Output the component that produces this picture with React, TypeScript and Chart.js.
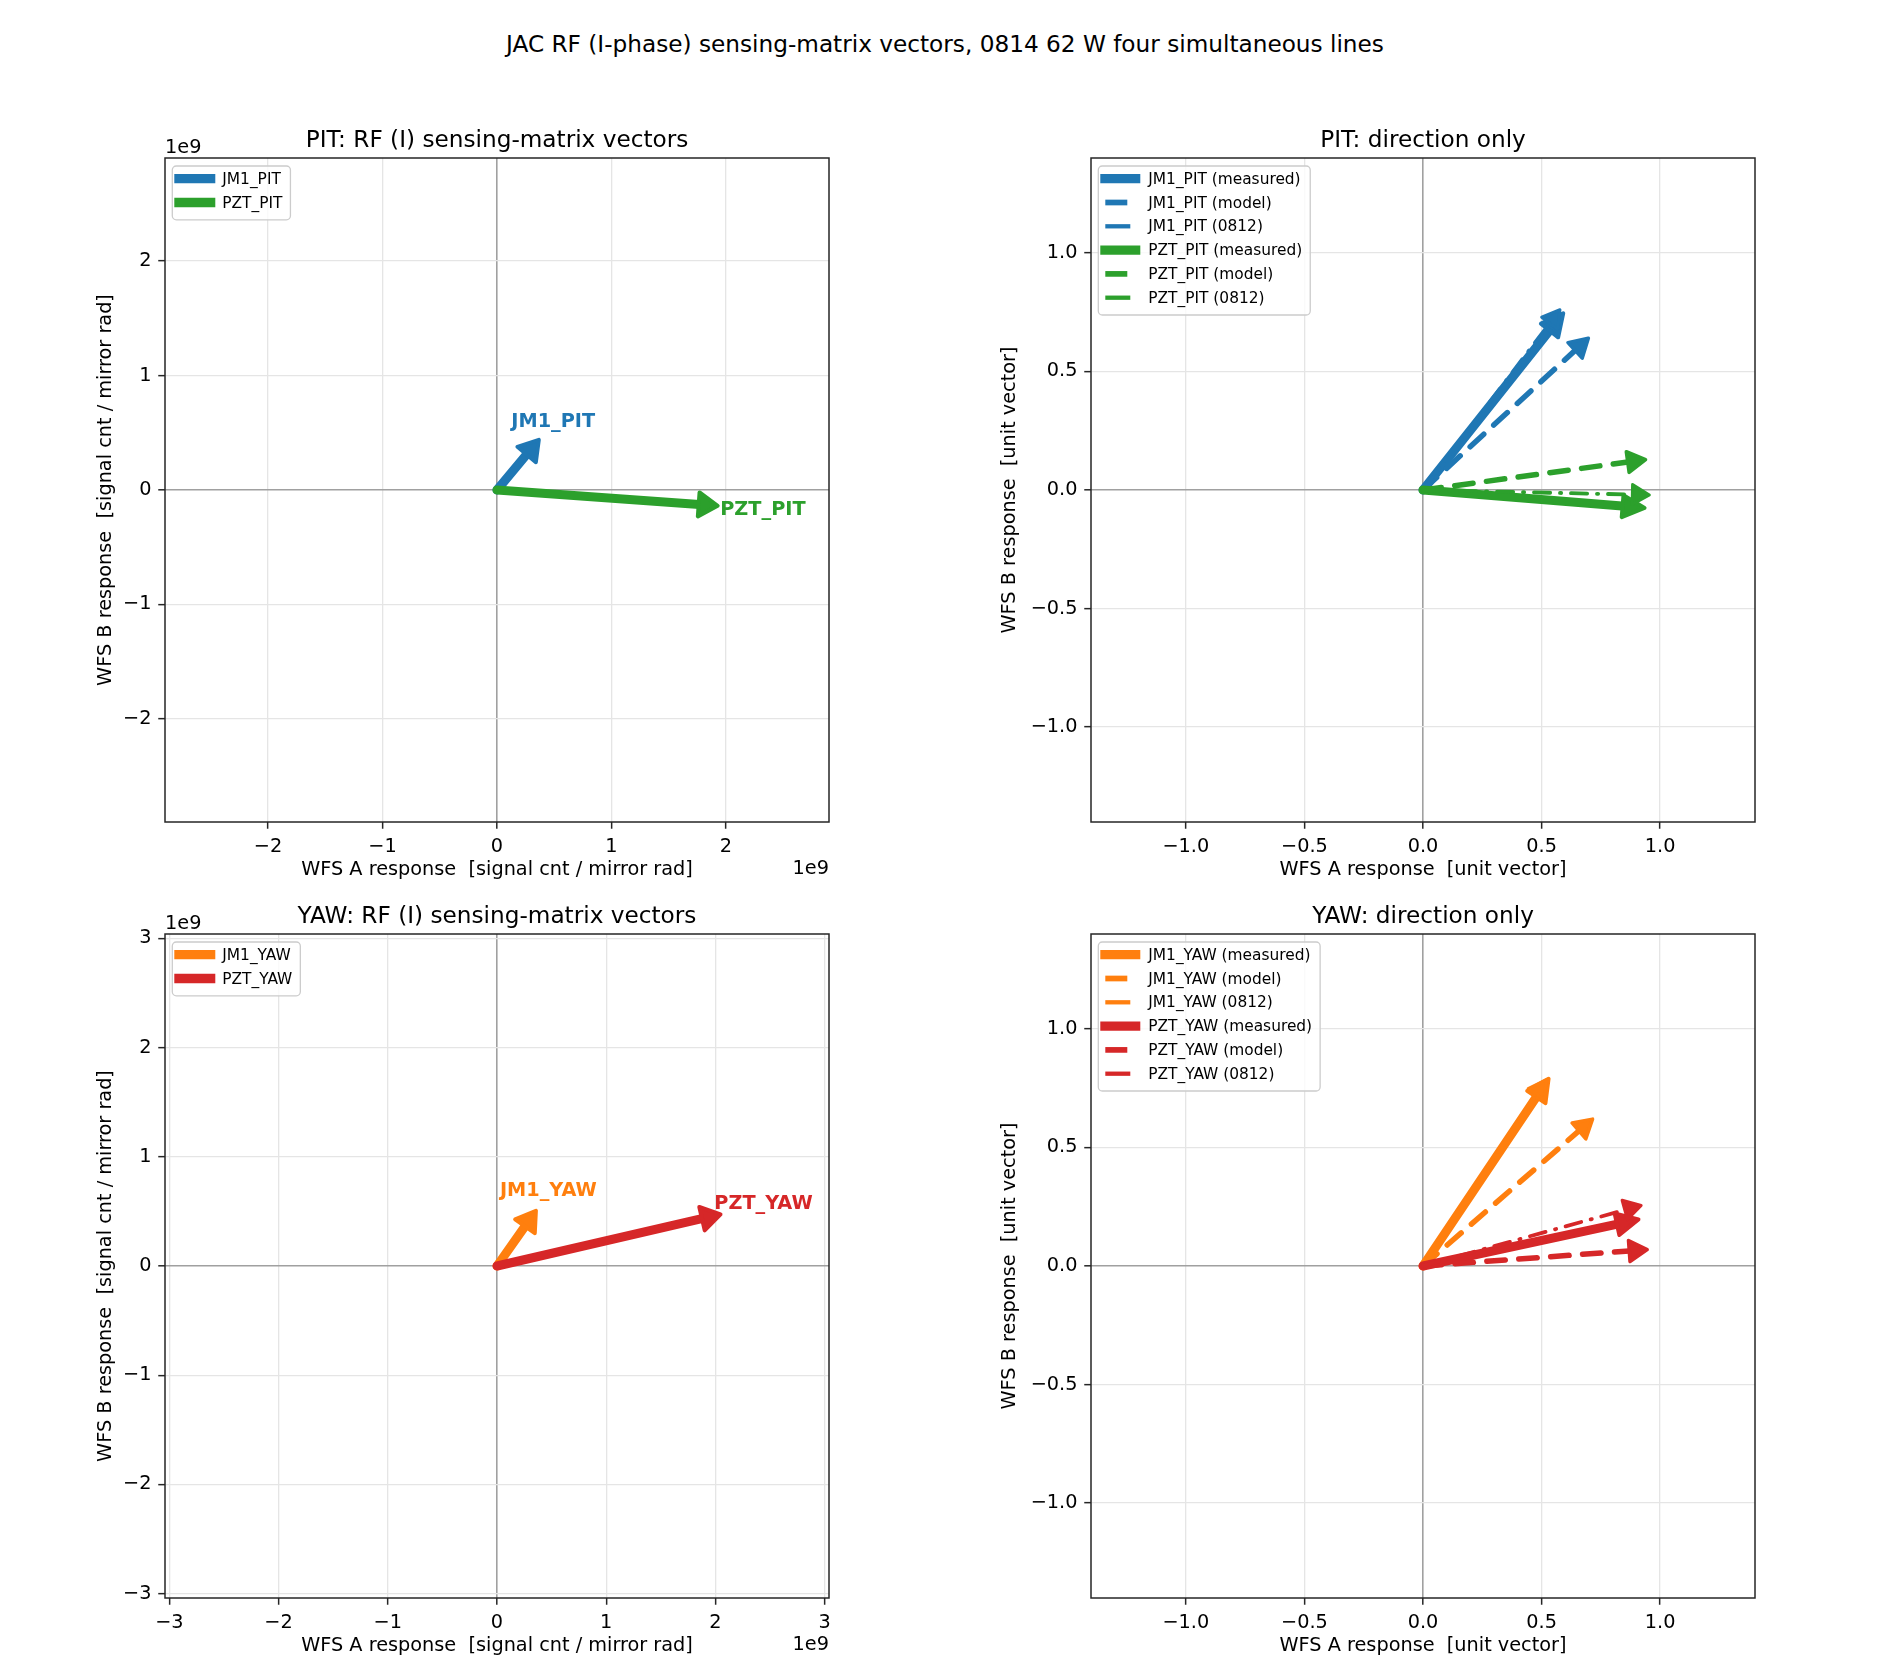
import React, { useEffect, useRef } from "react";
import { Chart, registerables } from "chart.js";

Chart.register(...registerables);

const FONT = "'DejaVu Sans', 'Liberation Sans', Arial, sans-serif";
Chart.defaults.font.family = FONT;
Chart.defaults.color = "#000";

// ---- values ----
const pitMirrors = ["JM1_PIT", "PZT_PIT"];
const yawMirrors = ["JM1_YAW", "PZT_YAW"];

// raw RF (I) vectors, signal cnt / mirror rad
const pitWfsA = [0.386e9, 1.96e9];
const pitWfsB = [0.463e9, -0.14e9];
const yawWfsA = [0.376e9, 2.08e9];
const yawWfsB = [0.534e9, 0.48e9];

// bold tag anchors (left edge, baseline) in data units
const pitTagA = [0.125e9, 1.95e9];
const pitTagB = [0.55e9, -0.217e9];
const yawTagA = [0.027e9, 1.99e9];
const yawTagB = [0.64e9, 0.525e9];

// direction-only vectors, in the order of dirKinds
const dirKinds = ["measured", "model", "0812"];
const jm1PitDirA = [0.603, 0.708, 0.585];
const jm1PitDirB = [0.76, 0.65, 0.77];
const pztPitDirA = [0.953, 0.953, 0.967];
const pztPitDirB = [-0.077, 0.13, -0.021];
const jm1YawDirA = [0.54, 0.726, 0.525];
const jm1YawDirB = [0.805, 0.629, 0.795];
const pztYawDirA = [0.927, 0.96, 0.932];
const pztYawDirB = [0.2, 0.07, 0.259];

const pitRawTicks = [-2e9, -1e9, 0, 1e9, 2e9];
const yawRawTicks = [-3e9, -2e9, -1e9, 0, 1e9, 2e9, 3e9];
const unitTicks = [-1, -0.5, 0, 0.5, 1];

const pitRawLim = 2.9e9;
const yawRawLim = 3.04e9;
const unitLim = 1.4;

const mirrorColor: Record<string, string> = {
  JM1_PIT: "#1f77b4",
  PZT_PIT: "#2ca02c",
  JM1_YAW: "#ff7f0e",
  PZT_YAW: "#d62728",
};

// line width, dash, head [length, half width, outline], legend sample [x0, x1, width]
const ARROW_STYLE: Record<string, any> = {
  raw: { lw: 9, dash: [], head: [19, 12, 4], legend: [2, 43, 9.3] },
  measured: { lw: 9, dash: [], head: [22, 11, 4], legend: [2, 42, 9.3] },
  model: { lw: 5.5, dash: [18.5, 13.5], head: [18, 10.5, 3.5], legend: [7, 29, 5.7] },
  "0812": { lw: 3.8, dash: [16.2, 9.8, 1.2, 9.8], head: [17, 10, 3], legend: [7, 32, 4.3] },
};

// ---- layout ----
const PLOT = 664;
const PAD_L = 110;
const PAD_T = 70;
const PAD_R = 30;
const PAD_B = 80;
const CW = PLOT + PAD_L + PAD_R;
const CH = PLOT + PAD_T + PAD_B;
const TICK_FONT = 19.3;

const minus = (s: string) => s.replace("-", "\u2212");
const fmtRaw = (v: number) => minus(String(Math.round(v / 1e9)));
const fmtUnit = (v: number) => minus(v.toFixed(1));

type Arrow = { label: string; x: number; y: number; color: string; kind: string };
type Tag = { text: string; x: number; y: number; color: string };
type Panel = {
  key: string;
  left: number;
  top: number;
  title: string;
  xTitle: string;
  yTitle: string;
  yTitlePad: number;
  lim: number;
  ticks: number[];
  fmt: (v: number) => string;
  showExp: boolean;
  arrows: Arrow[];
  tags: Tag[];
};

const rawArrows = (names: string[], a: number[], b: number[]): Arrow[] =>
  names.map((m, i) => ({ label: m, x: a[i], y: b[i], color: mirrorColor[m], kind: "raw" }));

const rawTags = (names: string[], a: number[], b: number[]): Tag[] =>
  names.map((m, i) => ({ text: m, x: a[i], y: b[i], color: mirrorColor[m] }));

const dirArrows = (names: string[], a: number[][], b: number[][]): Arrow[] =>
  names.flatMap((m, i) =>
    dirKinds.map((k, j) => ({ label: `${m} (${k})`, x: a[i][j], y: b[i][j], color: mirrorColor[m], kind: k }))
  );

const RAW_X = "WFS A response  [signal cnt / mirror rad]";
const RAW_Y = "WFS B response  [signal cnt / mirror rad]";
const UNIT_X = "WFS A response  [unit vector]";
const UNIT_Y = "WFS B response  [unit vector]";

const panels: Panel[] = [
  {
    key: "pit-raw", left: 165, top: 158,
    title: "PIT: RF (I) sensing-matrix vectors", xTitle: RAW_X, yTitle: RAW_Y, yTitlePad: 39.4,
    lim: pitRawLim, ticks: pitRawTicks, fmt: fmtRaw, showExp: true,
    arrows: rawArrows(pitMirrors, pitWfsA, pitWfsB),
    tags: rawTags(pitMirrors, pitTagA, pitTagB),
  },
  {
    key: "pit-dir", left: 1091, top: 158,
    title: "PIT: direction only", xTitle: UNIT_X, yTitle: UNIT_Y, yTitlePad: 17.4,
    lim: unitLim, ticks: unitTicks, fmt: fmtUnit, showExp: false,
    arrows: dirArrows(pitMirrors, [jm1PitDirA, pztPitDirA], [jm1PitDirB, pztPitDirB]),
    tags: [],
  },
  {
    key: "yaw-raw", left: 165, top: 934,
    title: "YAW: RF (I) sensing-matrix vectors", xTitle: RAW_X, yTitle: RAW_Y, yTitlePad: 39.4,
    lim: yawRawLim, ticks: yawRawTicks, fmt: fmtRaw, showExp: true,
    arrows: rawArrows(yawMirrors, yawWfsA, yawWfsB),
    tags: rawTags(yawMirrors, yawTagA, yawTagB),
  },
  {
    key: "yaw-dir", left: 1091, top: 934,
    title: "YAW: direction only", xTitle: UNIT_X, yTitle: UNIT_Y, yTitlePad: 17.4,
    lim: unitLim, ticks: unitTicks, fmt: fmtUnit, showExp: false,
    arrows: dirArrows(yawMirrors, [jm1YawDirA, pztYawDirA], [jm1YawDirB, pztYawDirB]),
    tags: [],
  },
];

// pixel geometry of an arrow head, taken from the chart scales
const headGeom = (chart: any, i: number) => {
  const ds = chart.data.datasets[i];
  const xs = chart.scales.x;
  const ys = chart.scales.y;
  const x0 = xs.getPixelForValue(ds.data[0].x);
  const y0 = ys.getPixelForValue(ds.data[0].y);
  const x1 = xs.getPixelForValue(ds.data[1].x);
  const y1 = ys.getPixelForValue(ds.data[1].y);
  const len = Math.hypot(x1 - x0, y1 - y0) || 1;
  const ux = (x1 - x0) / len;
  const uy = (y1 - y0) / len;
  const [hl, hw, sw] = ds.head;
  const ext = sw / 2 / Math.sin(Math.atan2(hw, hl));
  return { ux, uy, tx: x1 - ux * ext, ty: y1 - uy * ext, hl, hw, sw, color: ds.borderColor };
};

const vectorDeco = {
  id: "vectorDeco",
  afterDatasetsUpdate(chart: any) {
    // stop each shaft under its head
    chart.data.datasets.forEach((_ds: any, i: number) => {
      const g = headGeom(chart, i);
      const pt = chart.getDatasetMeta(i).data[1];
      if (pt) {
        pt.x = g.tx - g.ux * g.hl * 0.6;
        pt.y = g.ty - g.uy * g.hl * 0.6;
      }
    });
  },
  afterDatasetDraw(chart: any, args: any) {
    const g = headGeom(chart, args.index);
    const { ctx } = chart;
    const bx = g.tx - g.ux * g.hl;
    const by = g.ty - g.uy * g.hl;
    ctx.save();
    ctx.fillStyle = g.color;
    ctx.strokeStyle = g.color;
    ctx.lineWidth = g.sw;
    ctx.lineJoin = "round";
    ctx.setLineDash([]);
    ctx.beginPath();
    ctx.moveTo(g.tx, g.ty);
    ctx.lineTo(bx - g.uy * g.hw, by + g.ux * g.hw);
    ctx.lineTo(bx + g.uy * g.hw, by - g.ux * g.hw);
    ctx.closePath();
    ctx.fill();
    ctx.stroke();
    ctx.restore();
  },
  afterDraw(chart: any, _args: any, opts: any) {
    const { ctx, chartArea: a } = chart;
    const xs = chart.scales.x;
    const ys = chart.scales.y;
    ctx.save();

    // spines
    ctx.strokeStyle = "#262626";
    ctx.lineWidth = 1.5;
    ctx.strokeRect(a.left, a.top, a.right - a.left, a.bottom - a.top);

    // title
    ctx.fillStyle = "#000";
    ctx.font = `23.2px ${FONT}`;
    ctx.textAlign = "center";
    ctx.textBaseline = "middle";
    ctx.fillText(opts.title, (a.left + a.right) / 2, a.top - 17);

    // exponent offset text
    if (opts.showExp) {
      ctx.font = `${TICK_FONT}px ${FONT}`;
      ctx.textAlign = "left";
      ctx.fillText("1e9", a.left, a.top - 10);
      ctx.textAlign = "right";
      ctx.fillText("1e9", a.right, a.bottom + 47);
    }

    // bold tags
    ctx.font = `bold ${TICK_FONT}px ${FONT}`;
    ctx.textAlign = "left";
    ctx.textBaseline = "alphabetic";
    opts.tags.forEach((t: Tag) => {
      ctx.fillStyle = t.color;
      ctx.fillText(t.text, xs.getPixelForValue(t.x), ys.getPixelForValue(t.y));
    });

    // legend
    const items = chart.data.datasets.map((ds: any) => ({
      text: ds.label,
      color: ds.borderColor,
      sample: ARROW_STYLE[ds.kind].legend,
    }));
    ctx.font = `15.4px ${FONT}`;
    const textW = Math.max(...items.map((it: any) => ctx.measureText(it.text).width));
    const L = a.left + 7.3;
    const T = a.top + 8;
    const rowH = 23.8;
    const boxW = 50 + textW + 8;
    const boxH = 12.7 + (items.length - 1) * rowH + 17.3;
    const r = 4;
    ctx.beginPath();
    ctx.moveTo(L + r, T);
    ctx.lineTo(L + boxW - r, T);
    ctx.arcTo(L + boxW, T, L + boxW, T + r, r);
    ctx.lineTo(L + boxW, T + boxH - r);
    ctx.arcTo(L + boxW, T + boxH, L + boxW - r, T + boxH, r);
    ctx.lineTo(L + r, T + boxH);
    ctx.arcTo(L, T + boxH, L, T + boxH - r, r);
    ctx.lineTo(L, T + r);
    ctx.arcTo(L, T, L + r, T, r);
    ctx.closePath();
    ctx.fillStyle = "rgba(255,255,255,0.8)";
    ctx.fill();
    ctx.strokeStyle = "#cccccc";
    ctx.lineWidth = 1.3;
    ctx.stroke();

    items.forEach((it: any, i: number) => {
      const y = T + 12.7 + i * rowH;
      const [s0, s1, sw] = it.sample;
      ctx.strokeStyle = it.color;
      ctx.lineWidth = sw;
      ctx.lineCap = "butt";
      ctx.beginPath();
      ctx.moveTo(L + s0, y);
      ctx.lineTo(L + s1, y);
      ctx.stroke();
      ctx.fillStyle = "#000";
      ctx.textAlign = "left";
      ctx.textBaseline = "middle";
      ctx.fillText(it.text, L + 50, y + 1);
    });

    ctx.restore();
  },
};

const axisOptions = (p: Panel, which: "x" | "y") => ({
  type: "linear",
  min: -p.lim,
  max: p.lim,
  afterBuildTicks: (s: any) => {
    s.ticks = p.ticks.map((v) => ({ value: v }));
  },
  afterFit: (s: any) => {
    if (which === "x") s.height = PAD_B;
    else s.width = PAD_L;
  },
  ticks: {
    callback: (v: any) => p.fmt(Number(v)),
    font: { size: TICK_FONT },
    color: "#000",
    padding: 6.75,
    autoSkip: false,
    maxRotation: 0,
  },
  grid: {
    color: (c: any) => (c.tick && c.tick.value === 0 ? "#a0a0a0" : "#e5e5e5"),
    lineWidth: (c: any) => (c.tick && c.tick.value === 0 ? 1.6 : 1.3),
    drawTicks: true,
    tickLength: 6.75,
    tickWidth: 1.5,
    tickColor: "#262626",
  },
  border: { display: false },
  title: {
    display: true,
    text: which === "x" ? p.xTitle : p.yTitle,
    font: { size: TICK_FONT },
    color: "#000",
    padding: which === "x" ? { top: 0, bottom: 20.4 } : { top: p.yTitlePad, bottom: 0 },
  },
});

const buildConfig = (p: Panel): any => ({
  type: "scatter",
  data: {
    datasets: p.arrows.map((ar, i) => {
      const st = ARROW_STYLE[ar.kind];
      return {
        label: ar.label,
        kind: ar.kind,
        head: st.head,
        data: [
          { x: 0, y: 0 },
          { x: ar.x, y: ar.y },
        ],
        showLine: true,
        borderColor: ar.color,
        backgroundColor: ar.color,
        borderWidth: st.lw,
        borderDash: st.dash,
        borderCapStyle: "round",
        pointRadius: 0,
        pointHoverRadius: 0,
        pointHitRadius: 0,
        tension: 0,
        order: -i,
      };
    }),
  },
  options: {
    responsive: false,
    animation: false,
    events: [],
    layout: { padding: { left: 0, top: PAD_T, right: PAD_R, bottom: 0 } },
    scales: {
      x: axisOptions(p, "x"),
      y: axisOptions(p, "y"),
    },
    plugins: {
      legend: { display: false },
      tooltip: { enabled: false },
      vectorDeco: { title: p.title, showExp: p.showExp, tags: p.tags },
    },
  },
  plugins: [vectorDeco],
});

const VectorPanel: React.FC<{ panel: Panel }> = ({ panel }) => {
  const canvasRef = useRef<HTMLCanvasElement | null>(null);

  useEffect(() => {
    const canvas = canvasRef.current;
    if (!canvas) return;
    const chart = new Chart(canvas, buildConfig(panel));
    return () => {
      chart.destroy();
    };
  }, [panel]);

  return (
    <canvas
      ref={canvasRef}
      width={CW}
      height={CH}
      style={{
        position: "absolute",
        left: panel.left - PAD_L,
        top: panel.top - PAD_T,
        width: CW,
        height: CH,
      }}
    />
  );
};

export default function App() {
  return (
    <div
      style={{
        position: "absolute",
        left: 0,
        top: 0,
        width: 1890,
        height: 1680,
        background: "#fff",
        fontFamily: FONT,
        overflow: "hidden",
      }}
    >
      <div
        style={{
          position: "absolute",
          left: 0,
          top: 30,
          width: 1890,
          textAlign: "center",
          fontSize: 23.2,
          lineHeight: "28px",
          color: "#000",
        }}
      >
        JAC RF (I-phase) sensing-matrix vectors, 0814 62 W four simultaneous lines
      </div>
      {panels.map((p) => (
        <VectorPanel key={p.key} panel={p} />
      ))}
    </div>
  );
}
